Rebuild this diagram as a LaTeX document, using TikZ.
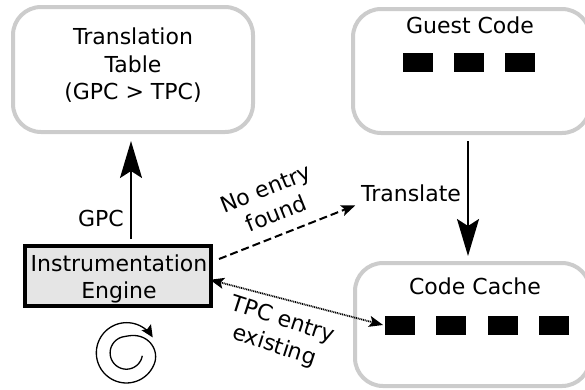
\documentclass[tikz,border=0pt]{standalone}
\usepackage{fontspec}
\setmainfont{DejaVu Sans}
\usetikzlibrary{arrows.meta,calc}
\begin{document}
\begin{tikzpicture}[x=1pt,y=-1pt,
  every node/.style={font=\fontsize{22}{27.5}\selectfont, inner sep=0pt, outer sep=0pt},
  store/.style={draw=black!20, line width=4pt, rounded corners=28pt, fill=white},
  engbox/.style={draw=black, line width=4.5pt, fill=black!10},
  blk/.style={fill=black, minimum width=30pt, minimum height=19pt},
  bigarrow/.style={line width=2pt, -{Stealth[length=37pt,width=22pt,inset=7pt]}},
  missarrow/.style={line width=2pt, dash pattern=on 8pt off 4pt,
    -{Stealth[length=14pt,width=11pt,inset=3pt]}},
  hitarrow/.style={line width=1.8pt, dash pattern=on 1pt off 0.8pt,
    {Stealth[length=14pt,width=11pt,inset=3pt]}-{Stealth[length=14pt,width=11pt,inset=3pt]}},
  cyclearrow/.style={line width=1.3pt, -{Stealth[length=12pt,width=11pt,inset=2pt]}},
  % radius of the loop symbol: an inner ring, a short widening, an outer ring
  declare function={sprU(\t)=min(max((\t-0.368)/0.176,0),1);
                    sprR(\t)=16+13*(3*sprU(\t)^2-2*sprU(\t)^3)+1.5*\t;}
]
\useasboundingbox (0,0) rectangle (585,389);

% storage boxes
\node[store, minimum width=240pt, minimum height=125pt] (table) at (133,69.5) {};
\node[align=center] (tabletext) at (133,65.5) {Translation\\Table\\(GPC > TPC)};

\node[store, minimum width=237pt, minimum height=124pt] (guest) at (471.5,71) {};
\node[anchor=base] (guesttext) at (470,33) {Guest Code};
\node[blk] (g1) at (418,62.5) {};
\node[blk] (g2) at (469,62.5) {};
\node[blk] (g3) at (520,62.5) {};

\node[store, minimum width=235pt, minimum height=123pt] (cache) at (472.5,324.5) {};
\node[anchor=base] (cachetext) at (475,294) {Code Cache};
\node[blk] (c1) at (400,325.5) {};
\node[blk] (c2) at (451,325.5) {};
\node[blk] (c3) at (503,325.5) {};
\node[blk] (c4) at (554,325.5) {};

% the engine
\node[engbox, minimum width=186pt, minimum height=60pt] (engine) at (118,276) {};
\node[align=center] (enginetext) at (119,279) {Instrumentation\\Engine};

% labels
\node[anchor=base] (gpc) at (101,226) {GPC};
\node[anchor=base, inner sep=3pt] (translate) at (411,201) {Translate};
\node[align=center, rotate=22] (miss) at (271,201) {No entry\\found};
\node[align=center, rotate=-18] (hit) at (278.5,333.5) {TPC entry\\existing};

% connectors
\coordinate (gx) at (131,0);
\coordinate (tx) at (468,0);
\draw[bigarrow, shorten <=7pt, shorten >=9pt] (engine.north -| gx) -- (table.south -| gx);
\draw[bigarrow, shorten <=8pt, shorten >=7pt] (guest.south -| tx) -- (cache.north -| tx);
\draw[missarrow, shorten >=3pt] ([shift={(8pt,17pt)}]engine.east) -- (translate.south west);
\draw[hitarrow, shorten <=-1pt, shorten >=2pt] ([yshift=-4pt]engine.east) -- (c1.west);

% main loop symbol, turning clockwise
\coordinate (spc) at (126.5,353);
\begin{scope}[shift={(spc)}]
  \draw[cyclearrow] plot[smooth, variable=\t, domain=0:1, samples=140]
    ({sprR(\t)*cos(350-680*\t)}, {-sprR(\t)*sin(350-680*\t)});
\end{scope}
\end{tikzpicture}
\end{document}
